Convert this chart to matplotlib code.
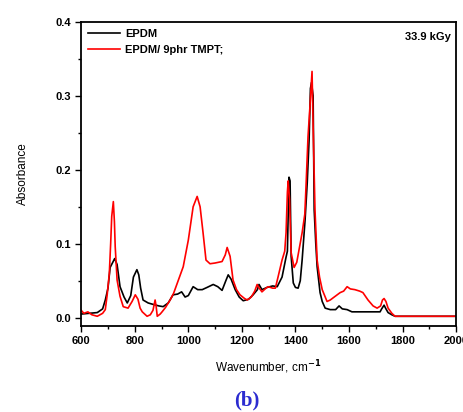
import matplotlib.pyplot as plt
from matplotlib.ticker import MultipleLocator

# EPDM (black)
epdm_wn = [600, 630, 660, 680, 690, 700, 708, 718, 725, 734, 745, 760, 772, 785, 795,
           808, 815, 822, 831, 850, 869, 890, 906, 925, 943, 960, 975, 988, 1000, 1018,
           1035, 1052, 1070, 1093, 1110, 1126, 1140, 1149, 1160, 1175, 1190, 1205, 1225,
           1242, 1258, 1264, 1275, 1294, 1315, 1332, 1350, 1365, 1370, 1376, 1380, 1384,
           1392, 1400, 1410, 1418, 1425, 1436, 1444, 1451, 1456, 1460, 1466, 1470, 1476,
           1481, 1492, 1500, 1511, 1530, 1550, 1563, 1575, 1593, 1611, 1650, 1700, 1716,
           1722, 1731, 1738, 1746, 1760, 1772, 1850, 2000]
epdm_abs = [0.005, 0.006, 0.007, 0.012, 0.024, 0.040, 0.068, 0.075, 0.080, 0.072, 0.042,
            0.028, 0.020, 0.030, 0.055, 0.065, 0.058, 0.040, 0.024, 0.020, 0.018, 0.016,
            0.015, 0.020, 0.031, 0.032, 0.035, 0.028, 0.030, 0.042, 0.038, 0.038, 0.041,
            0.045, 0.042, 0.037, 0.050, 0.058, 0.052, 0.038, 0.028, 0.023, 0.025, 0.031,
            0.038, 0.045, 0.038, 0.041, 0.043, 0.042, 0.055, 0.082, 0.090, 0.190, 0.185,
            0.083, 0.047, 0.041, 0.040, 0.050, 0.078, 0.132, 0.182, 0.240, 0.310, 0.318,
            0.300, 0.146, 0.100, 0.069, 0.034, 0.022, 0.013, 0.011, 0.011, 0.016, 0.012,
            0.011, 0.008, 0.008, 0.008, 0.008, 0.012, 0.017, 0.012, 0.007, 0.004, 0.002,
            0.002, 0.002]

# EPDM / 9phr TMPT (red)
tmpt_wn = [600, 610, 625, 640, 660, 680, 690, 697, 705, 710, 714, 720, 724, 727, 734,
           745, 757, 775, 790, 802, 812, 820, 828, 846, 858, 868, 876, 880, 884, 895,
           902, 915, 932, 945, 962, 981, 1000, 1018, 1033, 1044, 1055, 1066, 1081, 1100,
           1126, 1138, 1145, 1156, 1167, 1180, 1193, 1210, 1220, 1235, 1248, 1257, 1265,
           1275, 1290, 1298, 1315, 1325, 1335, 1350, 1360, 1365, 1370, 1373, 1378, 1384,
           1395, 1405, 1410, 1425, 1435, 1440, 1447, 1455, 1462, 1466, 1473, 1481, 1490,
           1500, 1518, 1530, 1541, 1567, 1580, 1593, 1605, 1622, 1640, 1652, 1671, 1690,
           1705, 1718, 1725, 1731, 1738, 1746, 1760, 1772, 2000]
tmpt_abs = [0.010, 0.006, 0.008, 0.004, 0.002, 0.006, 0.011, 0.031, 0.060, 0.100, 0.137,
            0.157, 0.130, 0.096, 0.051, 0.029, 0.015, 0.013, 0.022, 0.031, 0.025, 0.013,
            0.008, 0.002, 0.004, 0.010, 0.024, 0.015, 0.002, 0.005, 0.008, 0.014, 0.024,
            0.033, 0.050, 0.069, 0.105, 0.150, 0.164, 0.150, 0.115, 0.078, 0.073, 0.074,
            0.076, 0.085, 0.095, 0.083, 0.051, 0.038, 0.031, 0.026, 0.024, 0.028, 0.036,
            0.045, 0.040, 0.035, 0.040, 0.042, 0.040, 0.040, 0.055, 0.078, 0.090, 0.115,
            0.170, 0.185, 0.160, 0.088, 0.068, 0.075, 0.085, 0.115, 0.140, 0.182, 0.245,
            0.290, 0.333, 0.260, 0.146, 0.078, 0.055, 0.038, 0.022, 0.024, 0.027, 0.034,
            0.036, 0.042, 0.039, 0.038, 0.036, 0.034, 0.024, 0.016, 0.013, 0.016, 0.024,
            0.026, 0.022, 0.013, 0.006, 0.002, 0.002]

plt.rcParams['font.family'] = ['Liberation Sans', 'DejaVu Sans']
plt.rcParams['font.weight'] = 'bold'

fig = plt.figure(figsize=(4.64, 4.12), dpi=100)
ax = fig.add_axes([0.175, 0.209, 0.808, 0.738])

ax.plot(epdm_wn, epdm_abs, color='black', lw=1.2, label='EPDM')
ax.plot(tmpt_wn, tmpt_abs, color='#ff0000', lw=1.2, label='EPDM/ 9phr TMPT;')

ax.set_xlim(600, 2000)
ax.set_ylim(-0.011, 0.4)
ax.xaxis.set_major_locator(MultipleLocator(200))
ax.xaxis.set_minor_locator(MultipleLocator(100))
ax.yaxis.set_major_locator(MultipleLocator(0.1))
ax.yaxis.set_minor_locator(MultipleLocator(0.05))
ax.tick_params(which='both', direction='out', labelsize=8, top=False, right=False)
ax.tick_params(which='major', length=4, width=1)
ax.tick_params(which='minor', length=2.5, width=1)
for sp in ax.spines.values():
    sp.set_linewidth(1.3)

ax.set_xlabel('Wavenumber, cm$^{-1}$', fontsize=8.5, labelpad=9)
ax.set_ylabel('Absorbance', fontsize=8.5, labelpad=19)

ax.legend(loc='upper left', fontsize=8, frameon=False, handlelength=2.8,
          borderaxespad=0.25, labelspacing=0.55, handletextpad=0.5)
ax.text(0.985, 0.965, '33.9 kGy', transform=ax.transAxes, ha='right', va='top', fontsize=8)

fig.text(0.532, 0.003, '(b)', ha='center', va='bottom', fontsize=15, fontweight='bold',
         color='#2b2bd0', family='Liberation Serif')

fig.savefig('out.png', dpi=100)
